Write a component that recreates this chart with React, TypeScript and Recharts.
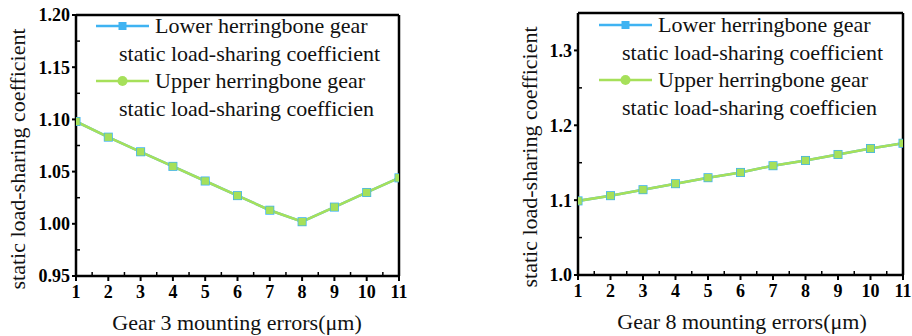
import React from 'react';
import { LineChart, Line, XAxis, YAxis, ReferenceLine } from 'recharts';

// mounting error (μm) on the x axis
const errors = [1, 2, 3, 4, 5, 6, 7, 8, 9, 10, 11];

// gear 3 sweep
const gear3Lower = [1.098, 1.083, 1.069, 1.055, 1.041, 1.027, 1.013, 1.002, 1.016, 1.030, 1.044];
const gear3Upper = [1.098, 1.083, 1.069, 1.055, 1.041, 1.027, 1.013, 1.002, 1.016, 1.030, 1.044];

// gear 8 sweep
const gear8Lower = [1.099, 1.106, 1.114, 1.122, 1.130, 1.137, 1.146, 1.153, 1.161, 1.169, 1.176];
const gear8Upper = [1.099, 1.106, 1.114, 1.122, 1.130, 1.137, 1.146, 1.153, 1.161, 1.169, 1.176];

const xMinorTicks = [1.5, 2.5, 3.5, 4.5, 5.5, 6.5, 7.5, 8.5, 9.5, 10.5];
const gear3YTicks = [0.95, 1.0, 1.05, 1.1, 1.15, 1.2];
const gear3YMinor = [0.975, 1.025, 1.075, 1.125, 1.175];
const gear8YTicks = [1.0, 1.1, 1.2, 1.3];
const gear8YMinor = [1.05, 1.15, 1.25];

const legendTitles = ['Lower herringbone gear', 'Upper herringbone gear'];
const legendSubs = ['static load-sharing coefficient', 'static load-sharing coefficien'];

const BLUE = '#3fb3f2';
const GREEN = '#a6e05a';
const FONT = '"Liberation Serif", "Times New Roman", serif';

const toRows = (lower: number[], upper: number[]) =>
  errors.map((e, i) => ({ x: e, lower: lower[i], upper: upper[i] }));

const squareDot = (size: number, color: string) => (p: any) => (
  <rect
    key={`dot-${color}-${p.index}`}
    x={p.cx - size / 2}
    y={p.cy - size / 2}
    width={size}
    height={size}
    fill={color}
  />
);

const isMajor = (v: number, majors: number[]) => majors.some((m) => Math.abs(m - v) < 1e-9);

// major ticks point out with a bold label, minor ticks point into the plot
const XTick = (props: any) => {
  const { x, payload, axisY, majors } = props;
  const v = payload.value;
  if (!isMajor(v, majors)) {
    return <line x1={x} y1={axisY} x2={x} y2={axisY - 4} stroke="#000" strokeWidth={1.5} />;
  }
  return (
    <g>
      <line x1={x} y1={axisY} x2={x} y2={axisY + 5} stroke="#000" strokeWidth={2} />
      <text x={x} y={axisY + 9} dy="0.71em" textAnchor="middle" fontFamily={FONT}
        fontSize={18} fontWeight="bold" fill="#000">{v}</text>
    </g>
  );
};

const YTick = (props: any) => {
  const { y, payload, axisX, majors, decimals } = props;
  const v = payload.value;
  if (!isMajor(v, majors)) {
    return <line x1={axisX} y1={y} x2={axisX + 4} y2={y} stroke="#000" strokeWidth={1.5} />;
  }
  return (
    <g>
      <line x1={axisX} y1={y} x2={axisX - 4} y2={y} stroke="#000" strokeWidth={2} />
      <text x={axisX - 6} y={y} dy="0.355em" textAnchor="end" fontFamily={FONT}
        fontSize={18} fontWeight="bold" fill="#000">{v.toFixed(decimals)}</text>
    </g>
  );
};

const LegendBox = ({ left, top }: { left: number; top: number }) => {
  const row = { height: 27.5, display: 'flex', alignItems: 'center' } as React.CSSProperties;
  return (
    <div
      style={{
        position: 'absolute', left, top, fontFamily: FONT, fontSize: 22,
        lineHeight: '27.5px', color: '#111', whiteSpace: 'nowrap',
      }}
    >
      <div style={row}>
        <svg width={53} height={12} style={{ marginRight: 6 }}>
          <line x1={0} y1={6} x2={53} y2={6} stroke={BLUE} strokeWidth={2.5} />
          <rect x={22.5} y={2} width={8} height={8} fill={BLUE} />
        </svg>
        <span>{legendTitles[0]}</span>
      </div>
      <div style={{ ...row, paddingLeft: 23 }}>{legendSubs[0]}</div>
      <div style={row}>
        <svg width={53} height={12} style={{ marginRight: 6 }}>
          <line x1={0} y1={6} x2={53} y2={6} stroke={GREEN} strokeWidth={2.5} />
          <circle cx={26.5} cy={6} r={5} fill={GREEN} />
        </svg>
        <span>{legendTitles[1]}</span>
      </div>
      <div style={{ ...row, paddingLeft: 23 }}>{legendSubs[1]}</div>
    </div>
  );
};

interface PanelProps {
  left: number;
  width: number;
  marginTop: number;
  marginRight: number;
  yAxisWidth: number;
  xAxisHeight: number;
  lower: number[];
  upper: number[];
  yDomain: [number, number];
  yTicks: number[];
  yMinor: number[];
  decimals: number;
  xTitle: string;
  xTitlePos: [number, number];
  yTitlePos: [number, number];
  legendPos: [number, number];
}

const Panel: React.FC<PanelProps> = (p) => {
  const data = toRows(p.lower, p.upper);
  const axisY = 336 - p.xAxisHeight;
  const axisX = p.yAxisWidth;
  const xAll = [...errors, ...xMinorTicks].sort((a, b) => a - b);
  const yAll = [...p.yTicks, ...p.yMinor].sort((a, b) => a - b);
  return (
    <div style={{ position: 'absolute', left: p.left, top: 0, width: p.width, height: 336 }}>
      <LineChart
        width={p.width}
        height={336}
        data={data}
        margin={{ top: p.marginTop, right: p.marginRight, bottom: 0, left: 0 }}
      >
        <XAxis
          dataKey="x"
          type="number"
          domain={[1, 11]}
          ticks={xAll}
          interval={0}
          allowDataOverflow
          height={p.xAxisHeight}
          axisLine={{ stroke: '#000', strokeWidth: 2.5 }}
          tickLine={false}
          tick={<XTick axisY={axisY} majors={errors} />}
          label={{
            content: () => (
              <text x={p.xTitlePos[0]} y={p.xTitlePos[1]} textAnchor="middle"
                fontFamily={FONT} fontSize={22} fill="#111">{p.xTitle}</text>
            ),
          }}
        />
        <YAxis
          type="number"
          domain={p.yDomain}
          ticks={yAll}
          interval={0}
          allowDataOverflow
          width={p.yAxisWidth}
          axisLine={{ stroke: '#000', strokeWidth: 2.5 }}
          tickLine={false}
          tick={<YTick axisX={axisX} majors={p.yTicks} decimals={p.decimals} />}
          label={{
            content: () => (
              <text
                x={p.yTitlePos[0]} y={p.yTitlePos[1]} textAnchor="middle"
                transform={`rotate(-90 ${p.yTitlePos[0]} ${p.yTitlePos[1]})`}
                fontFamily={FONT} fontSize={22} fill="#111"
              >static load-sharing coefficient</text>
            ),
          }}
        />
        <ReferenceLine y={p.yDomain[1]} stroke="#000" strokeWidth={2.5} />
        <ReferenceLine x={11} stroke="#000" strokeWidth={2.5} />
        <Line
          dataKey="lower"
          stroke={BLUE}
          strokeWidth={2.5}
          dot={squareDot(9, BLUE)}
          isAnimationActive={false}
        />
        <Line
          dataKey="upper"
          stroke={GREEN}
          strokeWidth={2.5}
          dot={squareDot(7.5, GREEN)}
          isAnimationActive={false}
        />
      </LineChart>
      <LegendBox left={p.legendPos[0]} top={p.legendPos[1]} />
    </div>
  );
};

export default function App() {
  return (
    <div style={{ position: 'absolute', left: 0, top: 0, width: 912, height: 336, background: '#fff', overflow: 'hidden' }}>
      <Panel
        left={0}
        width={420}
        marginTop={15}
        marginRight={21}
        yAxisWidth={76}
        xAxisHeight={60}
        lower={gear3Lower}
        upper={gear3Upper}
        yDomain={[0.95, 1.2]}
        yTicks={gear3YTicks}
        yMinor={gear3YMinor}
        decimals={2}
        xTitle="Gear 3 mounting errors(μm)"
        xTitlePos={[237, 330]}
        yTitlePos={[25, 159]}
        legendPos={[96, 12]}
      />
      <Panel
        left={480}
        width={432}
        marginTop={13}
        marginRight={9}
        yAxisWidth={98}
        xAxisHeight={61}
        lower={gear8Lower}
        upper={gear8Upper}
        yDomain={[1.0, 1.35]}
        yTicks={gear8YTicks}
        yMinor={gear8YMinor}
        decimals={1}
        xTitle="Gear 8 mounting errors(μm)"
        xTitlePos={[262, 329]}
        yTitlePos={[57, 157]}
        legendPos={[119, 11]}
      />
    </div>
  );
}
